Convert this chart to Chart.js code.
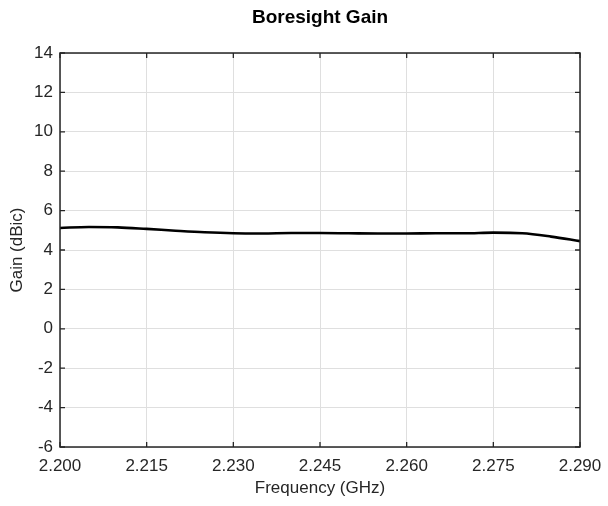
<!DOCTYPE html>
<html>
<head>
<meta charset="utf-8">
<script src="https://cdn.jsdelivr.net/npm/chart.js@4/dist/chart.umd.min.js"></script>
<style>
html,body{margin:0;padding:0;background:#fff;}
#wrap{width:608px;height:506px;}
</style>
</head>
<body>
<div id="wrap"><canvas id="c" width="608" height="506"></canvas></div>
<script>
const frequencies = [2.200,2.205,2.210,2.215,2.220,2.225,2.230,2.235,2.240,2.245,2.250,2.255,2.260,2.265,2.270,2.275,2.280,2.285,2.290];
const gains = [5.12,5.17,5.15,5.07,4.98,4.90,4.85,4.84,4.86,4.86,4.85,4.84,4.84,4.85,4.85,4.88,4.85,4.68,4.45];
const xTicks = [2.200,2.215,2.230,2.245,2.260,2.275,2.290];
const yTicks = [-6,-4,-2,0,2,4,6,8,10,12,14];

const FONT = "'Liberation Sans', Arial, Helvetica, sans-serif";
const AXIS = '#262626';

const boxPlugin = {
  id: 'box',
  afterDraw(chart) {
    const {ctx, chartArea: a, scales} = chart;
    ctx.save();
    ctx.strokeStyle = AXIS;
    ctx.lineWidth = 1.3;
    const tl = 5;
    ctx.beginPath();
    xTicks.forEach(v => {
      const px = scales.x.getPixelForValue(v);
      ctx.moveTo(px, a.bottom); ctx.lineTo(px, a.bottom - tl);
      ctx.moveTo(px, a.top); ctx.lineTo(px, a.top + tl);
    });
    yTicks.forEach(v => {
      const py = scales.y.getPixelForValue(v);
      ctx.moveTo(a.left, py); ctx.lineTo(a.left + tl, py);
      ctx.moveTo(a.right, py); ctx.lineTo(a.right - tl, py);
    });
    ctx.stroke();
    ctx.lineWidth = 1.5;
    ctx.strokeRect(a.left, a.top, a.right - a.left, a.bottom - a.top);
    ctx.restore();
  }
};

new Chart(document.getElementById('c'), {
  type: 'line',
  data: {
    datasets: [{
      data: frequencies.map((f, i) => ({x: f, y: gains[i]})),
      borderColor: '#000',
      borderWidth: 2.6,
      pointRadius: 0,
      cubicInterpolationMode: 'monotone',
      fill: false
    }]
  },
  options: {
    responsive: false,
    animation: false,
    devicePixelRatio: 1,
    layout: {padding: {left: 0, right: 28, top: 0, bottom: 7}},
    plugins: {
      legend: {display: false},
      tooltip: {enabled: false},
      title: {
        display: true,
        fullSize: false,
        text: 'Boresight Gain',
        color: '#000',
        font: {family: FONT, size: 19, weight: 'bold', lineHeight: 1.2},
        padding: {top: 6, bottom: 24.2}
      }
    },
    scales: {
      x: {
        type: 'linear',
        min: 2.2, max: 2.29,
        afterBuildTicks(s) { s.ticks = xTicks.map(v => ({value: v})); },
        afterFit(s) { s.height = 52; s.paddingRight = 0; s.paddingLeft = 0; },
        ticks: {
          color: AXIS,
          font: {family: FONT, size: 17},
          padding: 9,
          maxRotation: 0,
          callback: v => Number(v).toFixed(3)
        },
        grid: {color: '#dfdfdf', lineWidth: 1, drawTicks: false},
        border: {display: false},
        title: {display: true, text: 'Frequency (GHz)', color: AXIS, font: {family: FONT, size: 17}, padding: {top: 2, bottom: 0}}
      },
      y: {
        type: 'linear',
        min: -6, max: 14,
        afterBuildTicks(s) { s.ticks = yTicks.map(v => ({value: v})); },
        afterFit(s) { s.width = 60; s.paddingTop = 0; s.paddingBottom = 0; },
        ticks: {
          color: AXIS,
          font: {family: FONT, size: 17},
          padding: 7
        },
        grid: {color: '#dfdfdf', lineWidth: 1, drawTicks: false},
        border: {display: false},
        title: {display: true, text: 'Gain (dBic)', color: AXIS, font: {family: FONT, size: 17}, padding: {top: 7, bottom: 0}}
      }
    }
  },
  plugins: [boxPlugin]
});
</script>
</body>
</html>
